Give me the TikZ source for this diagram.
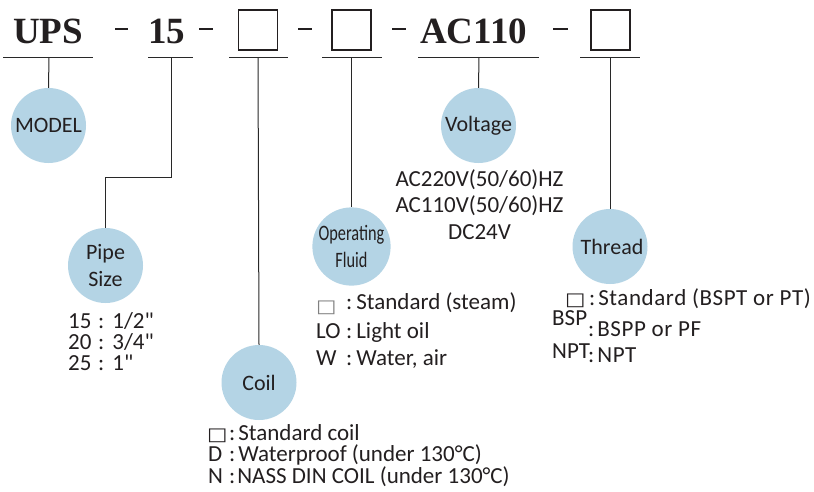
\documentclass[tikz,border=0pt]{standalone}
\usepackage{fontspec}
\usepackage{graphicx}
\setmainfont{Carlito}[Ligatures=TeXOff]
\newfontfamily\hdrfont{Liberation Serif}
\newfontfamily\symfont{DejaVu Sans}
\definecolor{txt}{RGB}{35,31,32}
\definecolor{lin}{RGB}{40,40,40}
\definecolor{bub}{RGB}{180,212,229}
\newcommand\sqbox{\scalebox{1.2}[1]{\symfont\fontsize{18}{18}\selectfont □}}
\tikzset{
  hd/.style={anchor=base west,inner sep=0pt,text=txt,font=\hdrfont\bfseries\fontsize{37}{37}\selectfont},
  codebox/.style={draw=txt,line width=1.6pt,minimum width=39pt,minimum height=40pt,inner sep=0pt},
  uline/.style={draw=lin,line width=1pt},
  conn/.style={draw=lin,line width=1pt},
  dashmark/.style={draw=txt,line width=1.8pt},
  bubble/.style={circle,fill=bub,minimum size=75pt,inner sep=0pt,text=txt,font=\fontsize{22}{27}\selectfont,align=center},
  opt/.style={anchor=base west,inner sep=0pt,text=txt,font=\fontsize{23}{23}\selectfont},
  optc/.style={anchor=base,inner sep=0pt,text=txt,font=\fontsize{23}{23}\selectfont},
}
\begin{document}
\begin{tikzpicture}[x=1pt,y=-1pt]
\useasboundingbox[fill=white] (0,0) rectangle (814,491);
% header
\node[hd] (ups) at (13,43) {UPS};
\node[hd] (n15) at (148,43) {15};
\node[hd] (ac) at (420,43) {AC110};
\node[codebox] (b1) at (258,30) {};
\node[codebox] (b2) at (351.5,30) {};
\node[codebox] (b3) at (610.5,30) {};
\draw[dashmark] (115,29) -- (128,29);
\draw[dashmark] (199,29) -- (213,29);
\draw[dashmark] (298,29) -- (312,29);
\draw[dashmark] (392,29) -- (406,29);
\draw[dashmark] (553,29) -- (568,29);
% underlines
\draw[uline] (3,57) -- (93,57);
\draw[uline] (148,57) -- (193,57);
\draw[uline] (229,57) -- (288,57);
\draw[uline] (322,57) -- (382,57);
\draw[uline] (418,57) -- (539,57);
\draw[uline] (580,57) -- (640,57);
\coordinate (u1) at (49,57);
\coordinate (u2) at (171,57);
\coordinate (u3) at (258,57);
\coordinate (u4) at (351.5,57);
\coordinate (u5) at (479,57);
\coordinate (u6) at (610,57);
\coordinate (pk) at (105.5,177);
% bubbles
\node[bubble] (model) at (48.5,125.5) {MODEL};
\node[bubble] (pipe) at (105.5,265.5) {Pipe\\Size};
\node[bubble] (coil) at (259,382.5) {Coil};
\node[bubble] (fluid) at (351.5,246.5) {\scalebox{0.74}[1]{Operating}\\\scalebox{0.74}[1]{Fluid}};
\node[bubble] (volt) at (478.5,125.5) {Voltage};
\node[bubble] (thread) at (610,246.5) {\hspace{4pt}Thread};
% connectors
\draw[conn] (u1) -- (model.north);
\draw[conn] (u2) |- (pk) -- (pipe.north);
\draw[conn] (u3) -- (coil.north);
\draw[conn] (u4) -- (fluid.north);
\draw[conn] (u5) -- (volt.north);
\draw[conn] (u6) -- (thread.north);
% pipe size options
\node[opt] (p1) at (68,328) {\makebox[30pt][l]{15}:\hspace{8pt}1/2"};
\node[opt] (p2) at (68,349) {\makebox[30pt][l]{20}:\hspace{8pt}3/4"};
\node[opt] (p3) at (68,370) {\makebox[30pt][l]{25}:\hspace{8pt}1"};
% coil options
\node[opt] (c1) at (207,440) {\makebox[22pt][l]{\sqbox}:\hspace{3pt}Standard coil};
\node[opt] (c2) at (208,461) {\makebox[21pt][l]{D}:\hspace{3pt}Waterproof (under 130°C)};
\node[opt] (c3) at (208,483) {\makebox[21pt][l]{N}:\hspace{2pt}NASS DIN COIL (under 130°C)};
% fluid options
\node[opt] (f1) at (316,309) {\makebox[30pt][l]{\raisebox{-3pt}{\color{gray}\sqbox}}:\hspace{4pt}Standard (steam)};
\node[opt] (f2) at (316,338) {\makebox[30pt][l]{LO}:\hspace{4pt}Light oil};
\node[opt] (f3) at (316,365) {\makebox[30pt][l]{W}:\hspace{4pt}Water, air};
% voltage options
\node[optc] (v1) at (479.5,186) {AC220V(50/60)HZ};
\node[optc] (v2) at (479.5,212) {AC110V(50/60)HZ};
\node[optc] (v3) at (479.5,239) {DC24V};
% thread options
\node[opt] (t1) at (565,305) {\makebox[24pt][l]{\sqbox}:\hspace{3pt}\addfontfeature{LetterSpace=2.5}Standard (BSPT or PT)};
\node[opt] (t2a) at (552,325) {BSP};
\node[opt] (t2) at (588,336) {:\hspace{3pt}\addfontfeature{LetterSpace=2.5}BSPP or PF};
\node[opt] (t3a) at (552,358) {NPT};
\node[opt] (t3) at (588,362) {:\hspace{3pt}\addfontfeature{LetterSpace=2.5}NPT};
\end{tikzpicture}
\end{document}
